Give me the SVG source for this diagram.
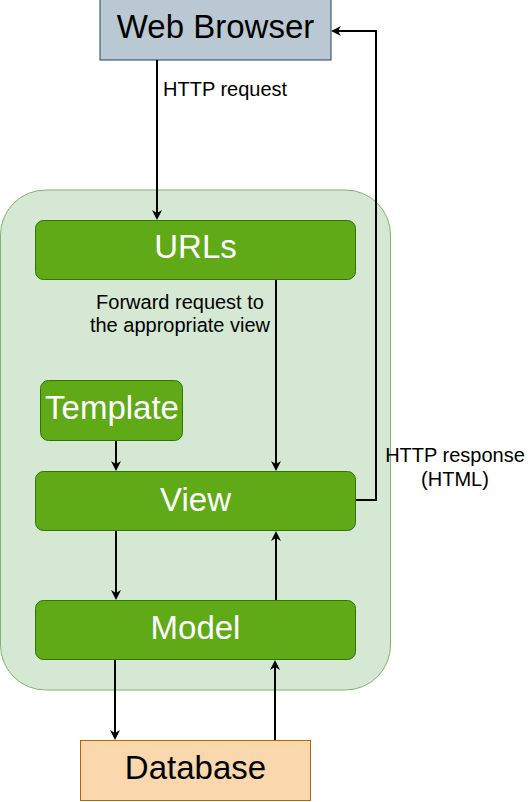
<svg xmlns="http://www.w3.org/2000/svg" width="532" height="802" viewBox="0 0 532 802">
<style>
text{font-family:"Liberation Sans",Arial,sans-serif;text-anchor:middle}
.g rect{fill:#60a917;stroke:#2d7600;stroke-width:1}
.g text{fill:#ffffff;font-size:33px}
.lbl{fill:#000;font-size:20px}
.c path{fill:none;stroke:#000;stroke-width:2}
</style>
<defs>
<marker id="ah" markerWidth="10" markerHeight="10" refX="8" refY="5" orient="auto" markerUnits="userSpaceOnUse">
<path d="M0,0 L10,5 L0,10 L3,5 Z" fill="#000"/>
</marker>
</defs>
<g id="container"><rect x="0.5" y="190" width="390" height="500" rx="45" fill="#d5e8d4" stroke="#82b366"/></g>
<g id="browser"><rect x="100" y="-1" width="231" height="61" fill="#bac8d3" stroke="#23445d"/><text x="215.5" y="38" font-size="33" fill="#000">Web Browser</text></g>
<g id="urls" class="g"><rect x="35.5" y="220.5" width="320" height="59" rx="8"/><text x="195.5" y="258">URLs</text></g>
<g id="template" class="g"><rect x="40.5" y="380.5" width="142" height="60" rx="8"/><text x="112" y="419">Template</text></g>
<g id="view" class="g"><rect x="35.5" y="471.5" width="320" height="59" rx="8"/><text x="195.5" y="511">View</text></g>
<g id="model" class="g"><rect x="35.5" y="600.5" width="320" height="59" rx="8"/><text x="195.5" y="639">Model</text></g>
<g id="database"><rect x="80.5" y="740.5" width="230" height="60" fill="#fad7ac" stroke="#b46504"/><text x="195.5" y="779" font-size="33" fill="#000">Database</text></g>
<g id="connectors" class="c">
<path d="M157,60 V218" marker-end="url(#ah)"/>
<path d="M356,500 H376 V31 H333" marker-end="url(#ah)"/>
<path d="M276,280 V469" marker-end="url(#ah)"/>
<path d="M116,441 V469" marker-end="url(#ah)"/>
<path d="M116,531 V598" marker-end="url(#ah)"/>
<path d="M276,600 V533" marker-end="url(#ah)"/>
<path d="M115,660 V738" marker-end="url(#ah)"/>
<path d="M275,740 V662" marker-end="url(#ah)"/>
</g>
<g id="labels">
<text class="lbl" x="163" y="96" text-anchor="start" style="text-anchor:start">HTTP request</text>
<text class="lbl" x="180" y="309">Forward request to</text>
<text class="lbl" x="180" y="332">the appropriate view</text>
<text class="lbl" x="455" y="462">HTTP response</text>
<text class="lbl" x="455" y="486">(HTML)</text>
</g>
</svg>
